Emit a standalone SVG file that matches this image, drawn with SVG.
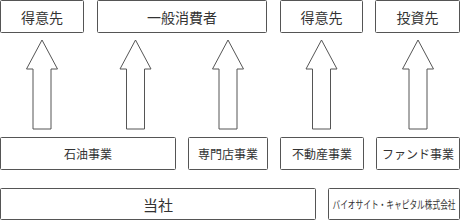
<svg xmlns="http://www.w3.org/2000/svg" width="460" height="220" viewBox="0 0 460 220">
<style>
.b{fill:#fff;stroke:#555;stroke-width:1}
.a{fill:#fff;stroke:#555;stroke-width:1;stroke-linejoin:miter}
text{font-family:"Noto Sans CJK JP","Noto Sans CJK SC",sans-serif;fill:#333;text-anchor:middle;dominant-baseline:central}
.t{font-size:14px}
.m{font-size:12px}
.s{font-size:11px}
.l{font-size:15px}
</style>
<rect width="460" height="220" fill="#fff"/>
<g id="connectors">
<polygon class="a" points="42,40 57.5,69 51,69 51,129 33,129 33,69 26.5,69"/>
<polygon class="a" points="135.5,40 151,69 144.5,69 144.5,129 126.5,129 126.5,69 120,69"/>
<polygon class="a" points="228,40 243.5,69 237,69 237,129 219,129 219,69 212.5,69"/>
<polygon class="a" points="321.5,40 337,69 330.5,69 330.5,129 312.5,129 312.5,69 306,69"/>
<polygon class="a" points="418,40 433.5,69 427,69 427,129 409,129 409,69 402.5,69"/>
</g>
<g id="n1"><rect class="b" x="0.5" y="0.5" width="83" height="32" rx="1"/><text class="t" x="42" y="16.5">得意先</text></g>
<g id="n2"><rect class="b" x="97.5" y="0.5" width="169" height="32" rx="1"/><text class="t" x="182" y="16.5">一般消費者</text></g>
<g id="n3"><rect class="b" x="280.5" y="0.5" width="82" height="32" rx="1"/><text class="t" x="321.5" y="16.5">得意先</text></g>
<g id="n4"><rect class="b" x="375.5" y="0.5" width="84" height="32" rx="1"/><text class="t" x="417.5" y="16.5">投資先</text></g>
<g id="n5"><rect class="b" x="0.5" y="137.5" width="175" height="32" rx="1"/><text class="m" x="88" y="153.5">石油事業</text></g>
<g id="n6"><rect class="b" x="188.5" y="137.5" width="79" height="32" rx="1"/><text class="m" x="228" y="153.5">専門店事業</text></g>
<g id="n7"><rect class="b" x="280.5" y="137.5" width="83" height="32" rx="1"/><text class="m" x="322" y="153.5">不動産事業</text></g>
<g id="n8"><rect class="b" x="376.5" y="137.5" width="83" height="32" rx="1"/><text class="m" x="418" y="153.5">ファンド事業</text></g>
<g id="n9"><rect class="b" x="0.5" y="188.5" width="315" height="31" rx="1"/><text class="l" x="158" y="204">当社</text></g>
<g id="n10"><rect class="b" x="328.5" y="188.5" width="131" height="31" rx="1"/><text class="s" transform="translate(394,204) scale(0.7,1)" x="0" y="0">バイオサイト・キャピタル株式会社</text></g>
</svg>
